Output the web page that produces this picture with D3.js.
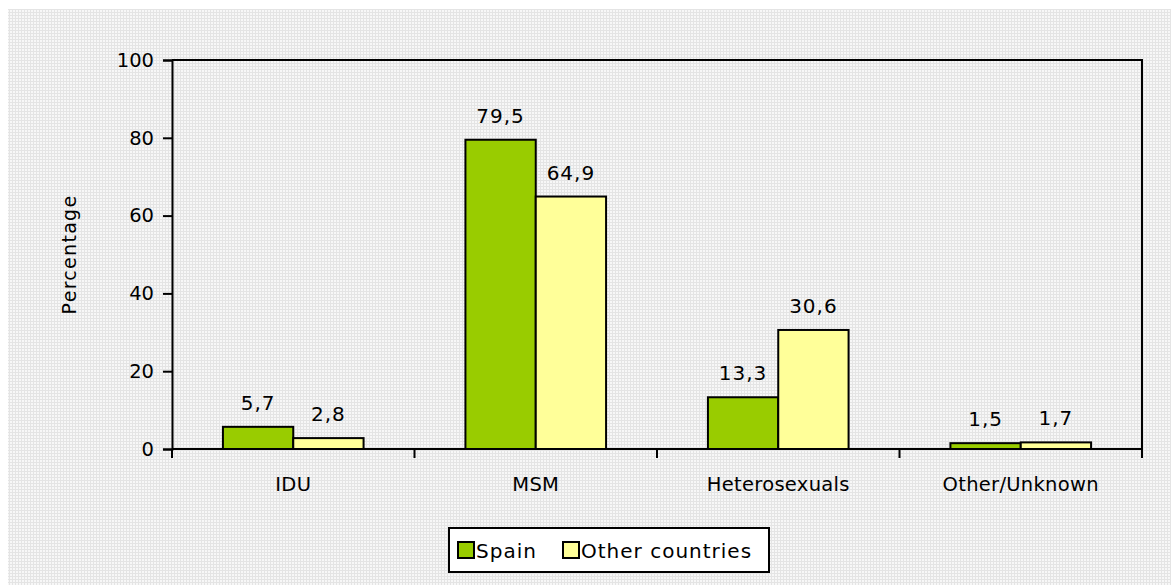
<!DOCTYPE html>
<html>
<head>
<meta charset="utf-8">
<script src="https://cdn.jsdelivr.net/npm/d3@7"></script>
<style>
  body { margin: 0; background: #fff; }
  text { font-family: "DejaVu Sans", Verdana, sans-serif; fill: #000; }
</style>
</head>
<body>
<svg id="chart" width="1171" height="585"></svg>
<script>
// data
var categories = ["IDU", "MSM", "Heterosexuals", "Other/Unknown"];
var seriesNames = ["Spain", "Other countries"];
var spainValues = [5.7, 79.5, 13.3, 1.5];
var otherValues = [2.8, 64.9, 30.6, 1.7];
var yTicks = [0, 20, 40, 60, 80, 100];
var colours = ["#99cc00", "#ffff99"];

var svg = d3.select("#chart");
var W = 1171, H = 585;
var m = { left: 172, right: 29, top: 60, bottom: 136 };

// excel-like fine grid background
var defs = svg.append("defs");
var pat = defs.append("pattern")
	.attr("id", "bg")
	.attr("width", 3).attr("height", 3)
	.attr("patternUnits", "userSpaceOnUse");
pat.append("rect").attr("width", 3).attr("height", 3).attr("fill", "#f7f7f7");
pat.append("rect").attr("width", 3).attr("height", 1).attr("fill", "#e4e4e4");
pat.append("rect").attr("width", 1).attr("height", 3).attr("fill", "#e4e4e4");

svg.append("rect")
	.attr("x", 8).attr("y", 9)
	.attr("width", W - 8).attr("height", H - 9)
	.attr("fill", "url(#bg)");

var x = d3.scaleBand()
	.domain(categories)
	.range([m.left, W - m.right])
	.paddingInner(0.42)
	.paddingOuter(0.21);

var x1 = d3.scaleBand()
	.domain(seriesNames)
	.range([0, x.bandwidth()]);

var y = d3.scaleLinear()
	.domain([0, 100])
	.range([H - m.bottom, m.top]);

var rows = categories.map(function (c, i) {
	return { cat: c, vals: [spainValues[i], otherValues[i]] };
});

// frame top and right
svg.append("path")
	.attr("d", "M" + m.left + "," + y(100) + "H" + (W - m.right) + "V" + y(0))
	.attr("fill", "none")
	.attr("stroke", "#000")
	.attr("stroke-width", 2);

// bars
var g = svg.selectAll("g.grp")
	.data(rows)
	.enter().append("g")
	.attr("class", "grp")
	.attr("transform", function (d) { return "translate(" + x(d.cat) + ",0)"; });

g.selectAll("rect")
	.data(function (d) { return d.vals.map(function (v, i) { return { s: seriesNames[i], v: v, i: i }; }); })
	.enter().append("rect")
	.attr("x", function (d) { return x1(d.s); })
	.attr("y", function (d) { return y(d.v); })
	.attr("width", x1.bandwidth())
	.attr("height", function (d) { return y(0) - y(d.v); })
	.attr("fill", function (d) { return colours[d.i]; })
	.attr("stroke", "#000")
	.attr("stroke-width", 2);

g.selectAll("text.val")
	.data(function (d) { return d.vals.map(function (v, i) { return { s: seriesNames[i], v: v }; }); })
	.enter().append("text")
	.attr("class", "val")
	.attr("x", function (d) { return x1(d.s) + x1.bandwidth() / 2; })
	.attr("y", function (d) { return y(d.v) - 17; })
	.attr("text-anchor", "middle")
	.attr("font-size", 20)
	.attr("letter-spacing", 1)
	.text(function (d) { return d3.format(".1f")(d.v).replace(".", ","); });

// y axis
var yAxis = d3.axisLeft(y).tickValues(yTicks).tickSize(9).tickPadding(9);
var ya = svg.append("g")
	.attr("transform", "translate(" + m.left + ",0)")
	.call(yAxis);
ya.select(".domain").attr("stroke-width", 2);
ya.selectAll(".tick line").attr("stroke-width", 2);
ya.selectAll(".tick text")
	.attr("font-size", 19.5)
	.style("font-family", "DejaVu Sans, sans-serif");

// x axis: ticks at the category boundaries
var bounds = d3.range(categories.length + 1).map(function (i) {
	return m.left + i * (W - m.right - m.left) / categories.length;
});
var xa = svg.append("g").attr("transform", "translate(0," + y(0) + ")");
xa.append("line")
	.attr("x1", m.left).attr("x2", W - m.right)
	.attr("stroke", "#000").attr("stroke-width", 2);
xa.selectAll("line.tk")
	.data(bounds)
	.enter().append("line")
	.attr("class", "tk")
	.attr("x1", function (d) { return d; }).attr("x2", function (d) { return d; })
	.attr("y1", 0).attr("y2", 9)
	.attr("stroke", "#000").attr("stroke-width", 2);
xa.selectAll("text")
	.data(categories)
	.enter().append("text")
	.attr("x", function (d) { return x(d) + x.bandwidth() / 2; })
	.attr("y", 42)
	.attr("text-anchor", "middle")
	.attr("font-size", 19.5)
	.attr("letter-spacing", 0.3)
	.text(function (d) { return d; });

// y title
svg.append("text")
	.attr("transform", "translate(76," + ((y(0) + y(100)) / 2) + ") rotate(-90)")
	.attr("text-anchor", "middle")
	.attr("font-size", 19)
	.attr("letter-spacing", 1.3)
	.text("Percentage");

// legend
var lg = svg.append("g").attr("transform", "translate(449,528)");
lg.append("rect")
	.attr("width", 320).attr("height", 44)
	.attr("fill", "#fff").attr("stroke", "#000").attr("stroke-width", 2);
var items = [{ n: seriesNames[0], x: 9 }, { n: seriesNames[1], x: 114 }];
items.forEach(function (it, i) {
	lg.append("rect")
		.attr("x", it.x).attr("y", 14)
		.attr("width", 16).attr("height", 16)
		.attr("fill", colours[i]).attr("stroke", "#000").attr("stroke-width", 2);
	lg.append("text")
		.attr("x", it.x + 18).attr("y", 30)
		.attr("font-size", 20)
		.attr("letter-spacing", 1)
		.text(it.n);
});
</script>
</body>
</html>
